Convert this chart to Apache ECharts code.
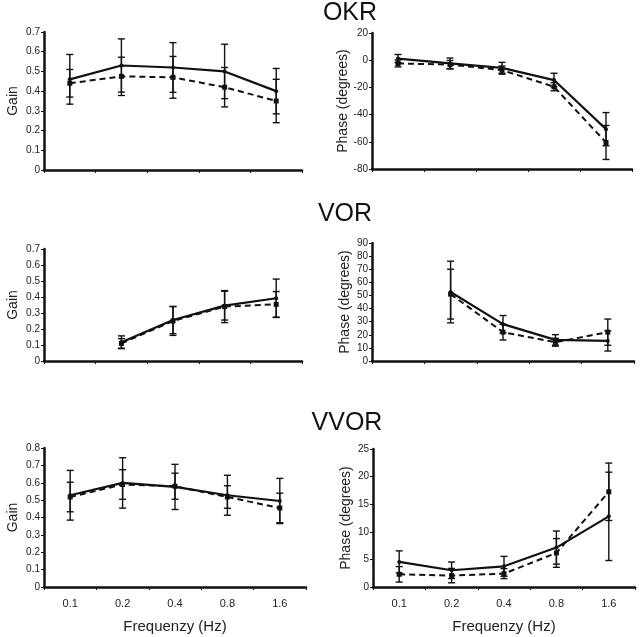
<!DOCTYPE html>
<html>
<head>
<meta charset="utf-8">
<script src="https://cdn.jsdelivr.net/npm/echarts@6/dist/echarts.min.js"></script>
<style>
html,body{margin:0;padding:0;background:#fff;}
#chart{width:640px;height:637px;}
</style>
</head>
<body>
<div id="chart"></div>
<script>
// ---- Data ----
const freqs = ['0.1', '0.2', '0.4', '0.8', '1.6'];

const okrGainSolid     = [0.46, 0.53, 0.52, 0.50, 0.40];
const okrGainSolidErr  = [0.126, 0.135, 0.126, 0.138, 0.115];
const okrGainDashed    = [0.44, 0.475, 0.47, 0.42, 0.35];
const okrGainDashedErr = [0.07, 0.097, 0.106, 0.10, 0.11];

const okrPhaseSolid     = [1.2, -2.4, -5.6, -14.6, -50.7];
const okrPhaseSolidErr  = [3, 4, 4, 5, 12.2];
const okrPhaseDashed    = [-2.4, -3.2, -7.3, -19.5, -60.5];
const okrPhaseDashedErr = [2.5, 3, 3, 3, 12.5];

const vorGainSolid     = [null, 0.117, 0.256, 0.346, 0.392];
const vorGainSolidErr  = [null, 0.04, 0.085, 0.09, 0.12];
const vorGainDashed    = [null, 0.11, 0.25, 0.34, 0.354];
const vorGainDashedErr = [null, 0.03, 0.09, 0.10, 0.08];

const vorPhaseSolid     = [null, 52.6, 28.1, 16.1, 15.3];
const vorPhaseSolidErr  = [null, 23.5, 6.6, 4, 7.7];
const vorPhaseDashed    = [null, 51, 22, 14.3, 22];
const vorPhaseDashedErr = [null, 19, 6, 3, 10];

const vvorGainSolid     = [0.528, 0.599, 0.576, 0.528, 0.495];
const vvorGainSolidErr  = [0.143, 0.145, 0.13, 0.115, 0.13];
const vvorGainDashed    = [0.518, 0.59, 0.58, 0.518, 0.455];
const vvorGainDashedErr = [0.085, 0.085, 0.075, 0.065, 0.085];

const vvorPhaseSolid     = [4.54, 3.03, 3.75, 7.14, 12.8];
const vvorPhaseSolidErr  = [2, 1.5, 1.8, 3, 8];
const vvorPhaseDashed    = [2.3, 2.06, 2.42, 6.17, 17.25];
const vvorPhaseDashedErr = [1.4, 1.3, 0.9, 2.6, 5.2];

const panelTitles = ['OKR', 'VOR', 'VVOR'];

// ---- Layout ----
const INK = '#111';
const FONT = '"Liberation Sans", Arial, sans-serif';

const grids = [
  {left: 44,  top: 32,  width: 258, height: 138},
  {left: 372, top: 33,  width: 260, height: 136},
  {left: 44,  top: 249, width: 258, height: 112},
  {left: 372, top: 243, width: 262, height: 118},
  {left: 44,  top: 448, width: 262, height: 139},
  {left: 373, top: 449, width: 262, height: 138}
];

const yCfg = [
  {min: 0,   max: 0.7, interval: 0.1, name: 'Gain'},
  {min: -80, max: 20,  interval: 20,  name: 'Phase (degrees)'},
  {min: 0,   max: 0.7, interval: 0.1, name: 'Gain'},
  {min: 0,   max: 90,  interval: 10,  name: 'Phase (degrees)'},
  {min: 0,   max: 0.8, interval: 0.1, name: 'Gain'},
  {min: 0,   max: 25,  interval: 5,   name: 'Phase (degrees)'}
];

const panels = [
  [okrGainSolid, okrGainSolidErr, okrGainDashed, okrGainDashedErr],
  [okrPhaseSolid, okrPhaseSolidErr, okrPhaseDashed, okrPhaseDashedErr],
  [vorGainSolid, vorGainSolidErr, vorGainDashed, vorGainDashedErr],
  [vorPhaseSolid, vorPhaseSolidErr, vorPhaseDashed, vorPhaseDashedErr],
  [vvorGainSolid, vvorGainSolidErr, vvorGainDashed, vvorGainDashedErr],
  [vvorPhaseSolid, vvorPhaseSolidErr, vvorPhaseDashed, vvorPhaseDashedErr]
];

const xAxes = grids.map((g, i) => {
  const bottom = i >= 4;
  return {
    type: 'category', gridIndex: i, data: freqs, boundaryGap: true,
    axisLine: {onZero: false, lineStyle: {color: INK, width: 2.5}},
    axisTick: {show: true, length: 3, lineStyle: {color: INK, width: 1}},
    axisLabel: {show: bottom, fontSize: 11, color: '#222', fontFamily: FONT, margin: 11},
    splitLine: {show: false},
    name: bottom ? 'Frequenzy (Hz)' : '',
    nameLocation: 'middle', nameGap: 32,
    nameTextStyle: {fontSize: 15, color: '#222', fontFamily: FONT}
  };
});

const yAxes = yCfg.map((c, i) => ({
  type: 'value', gridIndex: i, min: c.min, max: c.max, interval: c.interval,
  axisLine: {show: true, onZero: false, lineStyle: {color: INK, width: 2.5}},
  axisTick: {show: true, length: 3, lineStyle: {color: INK, width: 1}},
  axisLabel: {fontSize: 10, color: '#222', fontFamily: FONT, margin: 4},
  splitLine: {show: false},
  name: c.name, nameLocation: 'middle',
  nameGap: i % 2 === 0 ? 24 : 20,
  nameTextStyle: {fontSize: 14, color: '#222', fontFamily: FONT}
}));

function errData(vals, errs) {
  const out = [];
  vals.forEach((v, k) => { if (v !== null && errs[k] !== null) out.push([k, v, errs[k]]); });
  return out;
}

function errRender(capW) {
  return function (params, api) {
    const x = api.value(0), y = api.value(1), e = api.value(2);
    const top = api.coord([x, y + e]);
    const bot = api.coord([x, y - e]);
    const st = {stroke: INK, lineWidth: 1.4};
    return {
      type: 'group',
      children: [
        {type: 'line', shape: {x1: top[0], y1: top[1], x2: bot[0], y2: bot[1]}, style: st},
        {type: 'line', shape: {x1: top[0] - capW, y1: top[1], x2: top[0] + capW, y2: top[1]}, style: st},
        {type: 'line', shape: {x1: bot[0] - capW, y1: bot[1], x2: bot[0] + capW, y2: bot[1]}, style: st}
      ]
    };
  };
}

const series = [];
panels.forEach((p, i) => {
  const [sV, sE, dV, dE] = p;
  series.push({
    type: 'custom', xAxisIndex: i, yAxisIndex: i,
    renderItem: errRender(3.5), data: errData(sV, sE), silent: true, z: 3
  });
  series.push({
    type: 'custom', xAxisIndex: i, yAxisIndex: i,
    renderItem: errRender(3.5), data: errData(dV, dE), silent: true, z: 3
  });
  series.push({
    type: 'line', xAxisIndex: i, yAxisIndex: i, data: dV,
    lineStyle: {color: INK, width: 2, type: [6, 4]},
    itemStyle: {color: INK}, symbol: 'rect', symbolSize: 5, showSymbol: true,
    connectNulls: false, z: 4, animation: false
  });
  series.push({
    type: 'line', xAxisIndex: i, yAxisIndex: i, data: sV,
    lineStyle: {color: INK, width: 2.2, type: 'solid'},
    itemStyle: {color: INK}, symbol: 'circle', symbolSize: 4, showSymbol: true,
    connectNulls: false, z: 5, animation: false
  });
});

const titleY = [13, 214, 423];
const titleX = [350, 345, 347];
const graphics = panelTitles.map((t, k) => ({
  type: 'text', x: titleX[k], y: titleY[k],
  style: {text: t, fontSize: 25, fontFamily: FONT, fill: '#111',
          textAlign: 'center', textVerticalAlign: 'middle'}
}));

const chart = echarts.init(document.getElementById('chart'), null, {renderer: 'canvas'});
chart.setOption({
  animation: false,
  backgroundColor: '#fff',
  grid: grids,
  xAxis: xAxes,
  yAxis: yAxes,
  series: series,
  graphic: graphics
});
</script>
</body>
</html>
